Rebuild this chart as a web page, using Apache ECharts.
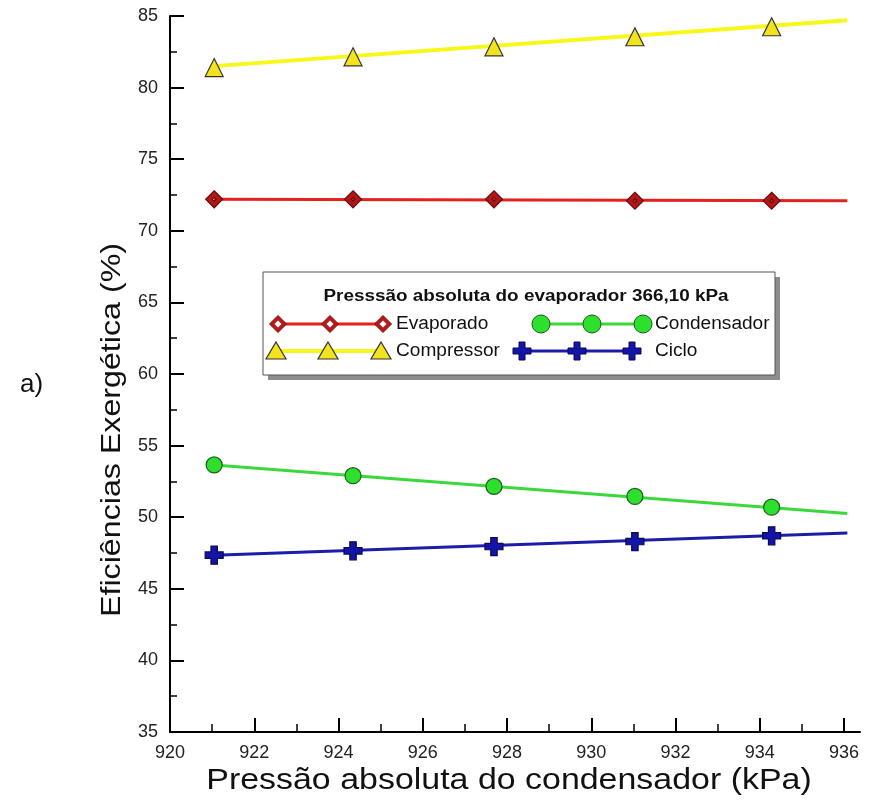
<!DOCTYPE html>
<html>
<head>
<meta charset="utf-8">
<script src="https://cdn.jsdelivr.net/npm/echarts@6/dist/echarts.min.js"></script>
<style>
  html, body { margin: 0; background: #fff; }
  #chart { width: 888px; height: 805px; }
</style>
</head>
<body>
<div id="chart"></div>
<script>
// pontos medidos (pressao do condensador, kPa)
var pressaoCond = [921.05, 924.35, 927.7, 931.05, 934.3];
var evaporador  = [72.2, 72.2, 72.2, 72.1, 72.1];
var compressor  = [81.4, 82.15, 82.85, 83.55, 84.25];
var condensador = [53.65, 52.9, 52.15, 51.45, 50.7];
var ciclo       = [47.35, 47.65, 47.95, 48.3, 48.7];

// retas de ajuste: inicio e fim
var ajusteX     = [921.05, 936.1];
var ajusteEvap  = [72.2, 72.1];
var ajusteComp  = [81.5, 84.7];
var ajusteCond  = [53.65, 50.25];
var ajusteCiclo = [47.35, 48.9];

// eixos
var xTicks = { min: 920, max: 936, step: 2, end: 936.4 };
var yTicks = { min: 35, max: 85, step: 5 };

var FONT = 'Liberation Sans, Arial, sans-serif';

function pares(xs, ys) {
    return xs.map(function (x, i) { return [x, ys[i]]; });
}

var diamondPath = 'path://M0,-10L10,0L0,10L-10,0Z M0,-2.2L-2.2,0L0,2.2L2.2,0Z';
var plusPath = 'path://M-3.2,-9H3.2V-3.2H9V3.2H3.2V9H-3.2V3.2H-9V-3.2H-3.2Z';

function linha(nome, ys, cor, largura) {
    return {
        name: nome, type: 'line', data: pares(ajusteX, ys),
        showSymbol: false, symbol: 'none', silent: true, z: 2,
        lineStyle: { color: cor, width: largura }
    };
}
function pontos(nome, ys, simbolo, tam, cor, borda) {
    return {
        name: nome, type: 'scatter', data: pares(pressaoCond, ys),
        symbol: simbolo, symbolSize: tam, z: 3,
        itemStyle: { color: cor, borderColor: borda, borderWidth: 1.2, opacity: 1 }
    };
}

// amostras da legenda (graphic)
function marca(tipo, x, y) {
    if (tipo === 'diamond') {
        return [{ type: 'polygon', shape: { points: [[x, y - 8.5], [x + 8.5, y], [x, y + 8.5], [x - 8.5, y]] },
                  style: { fill: '#b81a1a', stroke: '#7a0c0c', lineWidth: 1 } },
                { type: 'polygon', shape: { points: [[x, y - 3.5], [x + 3.5, y], [x, y + 3.5], [x - 3.5, y]] },
                  style: { fill: '#fff' } }];
    }
    if (tipo === 'circle') {
        return [{ type: 'circle', shape: { cx: x, cy: y, r: 9 },
                  style: { fill: '#2ee02e', stroke: '#1b5e1b', lineWidth: 1 } }];
    }
    if (tipo === 'triangle') {
        return [{ type: 'polygon', shape: { points: [[x, y - 9], [x + 10, y + 8], [x - 10, y + 8]] },
                  style: { fill: '#f2e31c', stroke: '#333', lineWidth: 1.2 } }];
    }
    return [{ type: 'polygon', shape: { points: [[x - 3, y - 9], [x + 3, y - 9], [x + 3, y - 3], [x + 9, y - 3], [x + 9, y + 3],
                                                  [x + 3, y + 3], [x + 3, y + 9], [x - 3, y + 9], [x - 3, y + 3], [x - 9, y + 3],
                                                  [x - 9, y - 3], [x - 3, y - 3]] },
              style: { fill: '#1414a8', stroke: '#0a0a50', lineWidth: 1 } }];
}
function texto(t, x, y, tam, escala, extra) {
    var st = { text: t, fontSize: tam, fontFamily: FONT, fill: '#111', align: 'left', verticalAlign: 'middle' };
    for (var k in (extra || {})) st[k] = extra[k];
    return { type: 'text', x: x, y: y, scaleX: escala, style: st };
}
function amostra(tipo, xs, y, cor, largura, rotulo, xTexto) {
    var els = [{ type: 'line', shape: { x1: xs[0], y1: y, x2: xs[2], y2: y },
                 style: { stroke: cor, lineWidth: largura } }];
    xs.forEach(function (x) { els = els.concat(marca(tipo, x, y)); });
    els.push(texto(rotulo, xTexto, y, 18, 1.06));
    return els;
}

var legenda = [
    { type: 'rect', shape: { x: 268, y: 277, width: 512, height: 103 }, style: { fill: '#8c8c8c' } },
    { type: 'rect', shape: { x: 263, y: 272, width: 512, height: 103 },
      style: { fill: '#fff', stroke: '#555', lineWidth: 1 } },
    texto('Presssão absoluta do evaporador 366,10 kPa', 526, 297, 16, 1.18,
          { fontWeight: 'bold', align: 'center' })
]
.concat(amostra('diamond', [278, 330, 383], 324, '#e4211d', 3, 'Evaporado', 396))
.concat(amostra('circle', [541, 592, 643], 324, '#3ad83a', 3, 'Condensador', 655))
.concat(amostra('triangle', [276, 328, 381], 351, '#f7f71a', 4, 'Compressor', 396))
.concat(amostra('plus', [522, 577, 632], 351, '#1c1ca8', 3, 'Ciclo', 655));

var titulos = [
    texto('Pressão absoluta do condensador (kPa)', 509, 781, 29, 1.17, { align: 'center' }),
    { type: 'text', x: 112, y: 430, rotation: Math.PI / 2, scaleX: 1.15,
      style: { text: 'Eficiências Exergética (%)', fontSize: 28, fontFamily: FONT, fill: '#111',
               align: 'center', verticalAlign: 'middle' } },
    texto('a)', 20, 385, 26, 1)
];

var chart = echarts.init(document.getElementById('chart'));
chart.setOption({
    animation: false,
    backgroundColor: '#fff',
    textStyle: { fontFamily: FONT },
    grid: [
        { left: 170, top: 16, width: 690, height: 716 },
        { left: 170, top: 16, width: 674, height: 716 }
    ],
    xAxis: [
        {
            gridIndex: 0, type: 'value', min: xTicks.min, max: xTicks.end,
            axisLine: { lineStyle: { color: '#000', width: 2 } },
            axisTick: { show: false }, axisLabel: { show: false }, splitLine: { show: false }
        },
        {
            gridIndex: 1, type: 'value', min: xTicks.min, max: xTicks.max, interval: xTicks.step,
            axisLine: { show: false },
            axisTick: { inside: true, length: 14, lineStyle: { color: '#000', width: 2 } },
            minorTick: { show: true, splitNumber: 2, length: 8, lineStyle: { color: '#000', width: 1.5 } },
            axisLabel: { fontSize: 18, color: '#222', margin: 12 },
            splitLine: { show: false }
        }
    ],
    yAxis: [
        {
            gridIndex: 0, type: 'value', min: yTicks.min, max: yTicks.max, interval: yTicks.step,
            axisLine: { show: true, lineStyle: { color: '#000', width: 2 } },
            axisTick: { inside: true, length: 14, lineStyle: { color: '#000', width: 2 } },
            minorTick: { show: true, splitNumber: 2, length: 7, lineStyle: { color: '#000', width: 1.5 } },
            axisLabel: { fontSize: 18, color: '#222', margin: 12 },
            splitLine: { show: false }
        },
        { gridIndex: 1, type: 'value', min: yTicks.min, max: yTicks.max, show: false }
    ],
    graphic: legenda.concat(titulos),
    series: [
        linha('Evaporado', ajusteEvap, '#e4211d', 3),
        linha('Compressor', ajusteComp, '#f7f71a', 4),
        linha('Condensador', ajusteCond, '#3ad83a', 3),
        linha('Ciclo', ajusteCiclo, '#1c1ca8', 3),
        pontos('Evaporado', evaporador, diamondPath, 17, '#b01818', '#6e0b0b'),
        pontos('Compressor', compressor, 'triangle', 18, '#f2e31c', '#333'),
        pontos('Condensador', condensador, 'circle', 16, '#2ee02e', '#1b5e1b'),
        pontos('Ciclo', ciclo, plusPath, 18, '#1414a8', '#0a0a50')
    ]
});
</script>
</body>
</html>
